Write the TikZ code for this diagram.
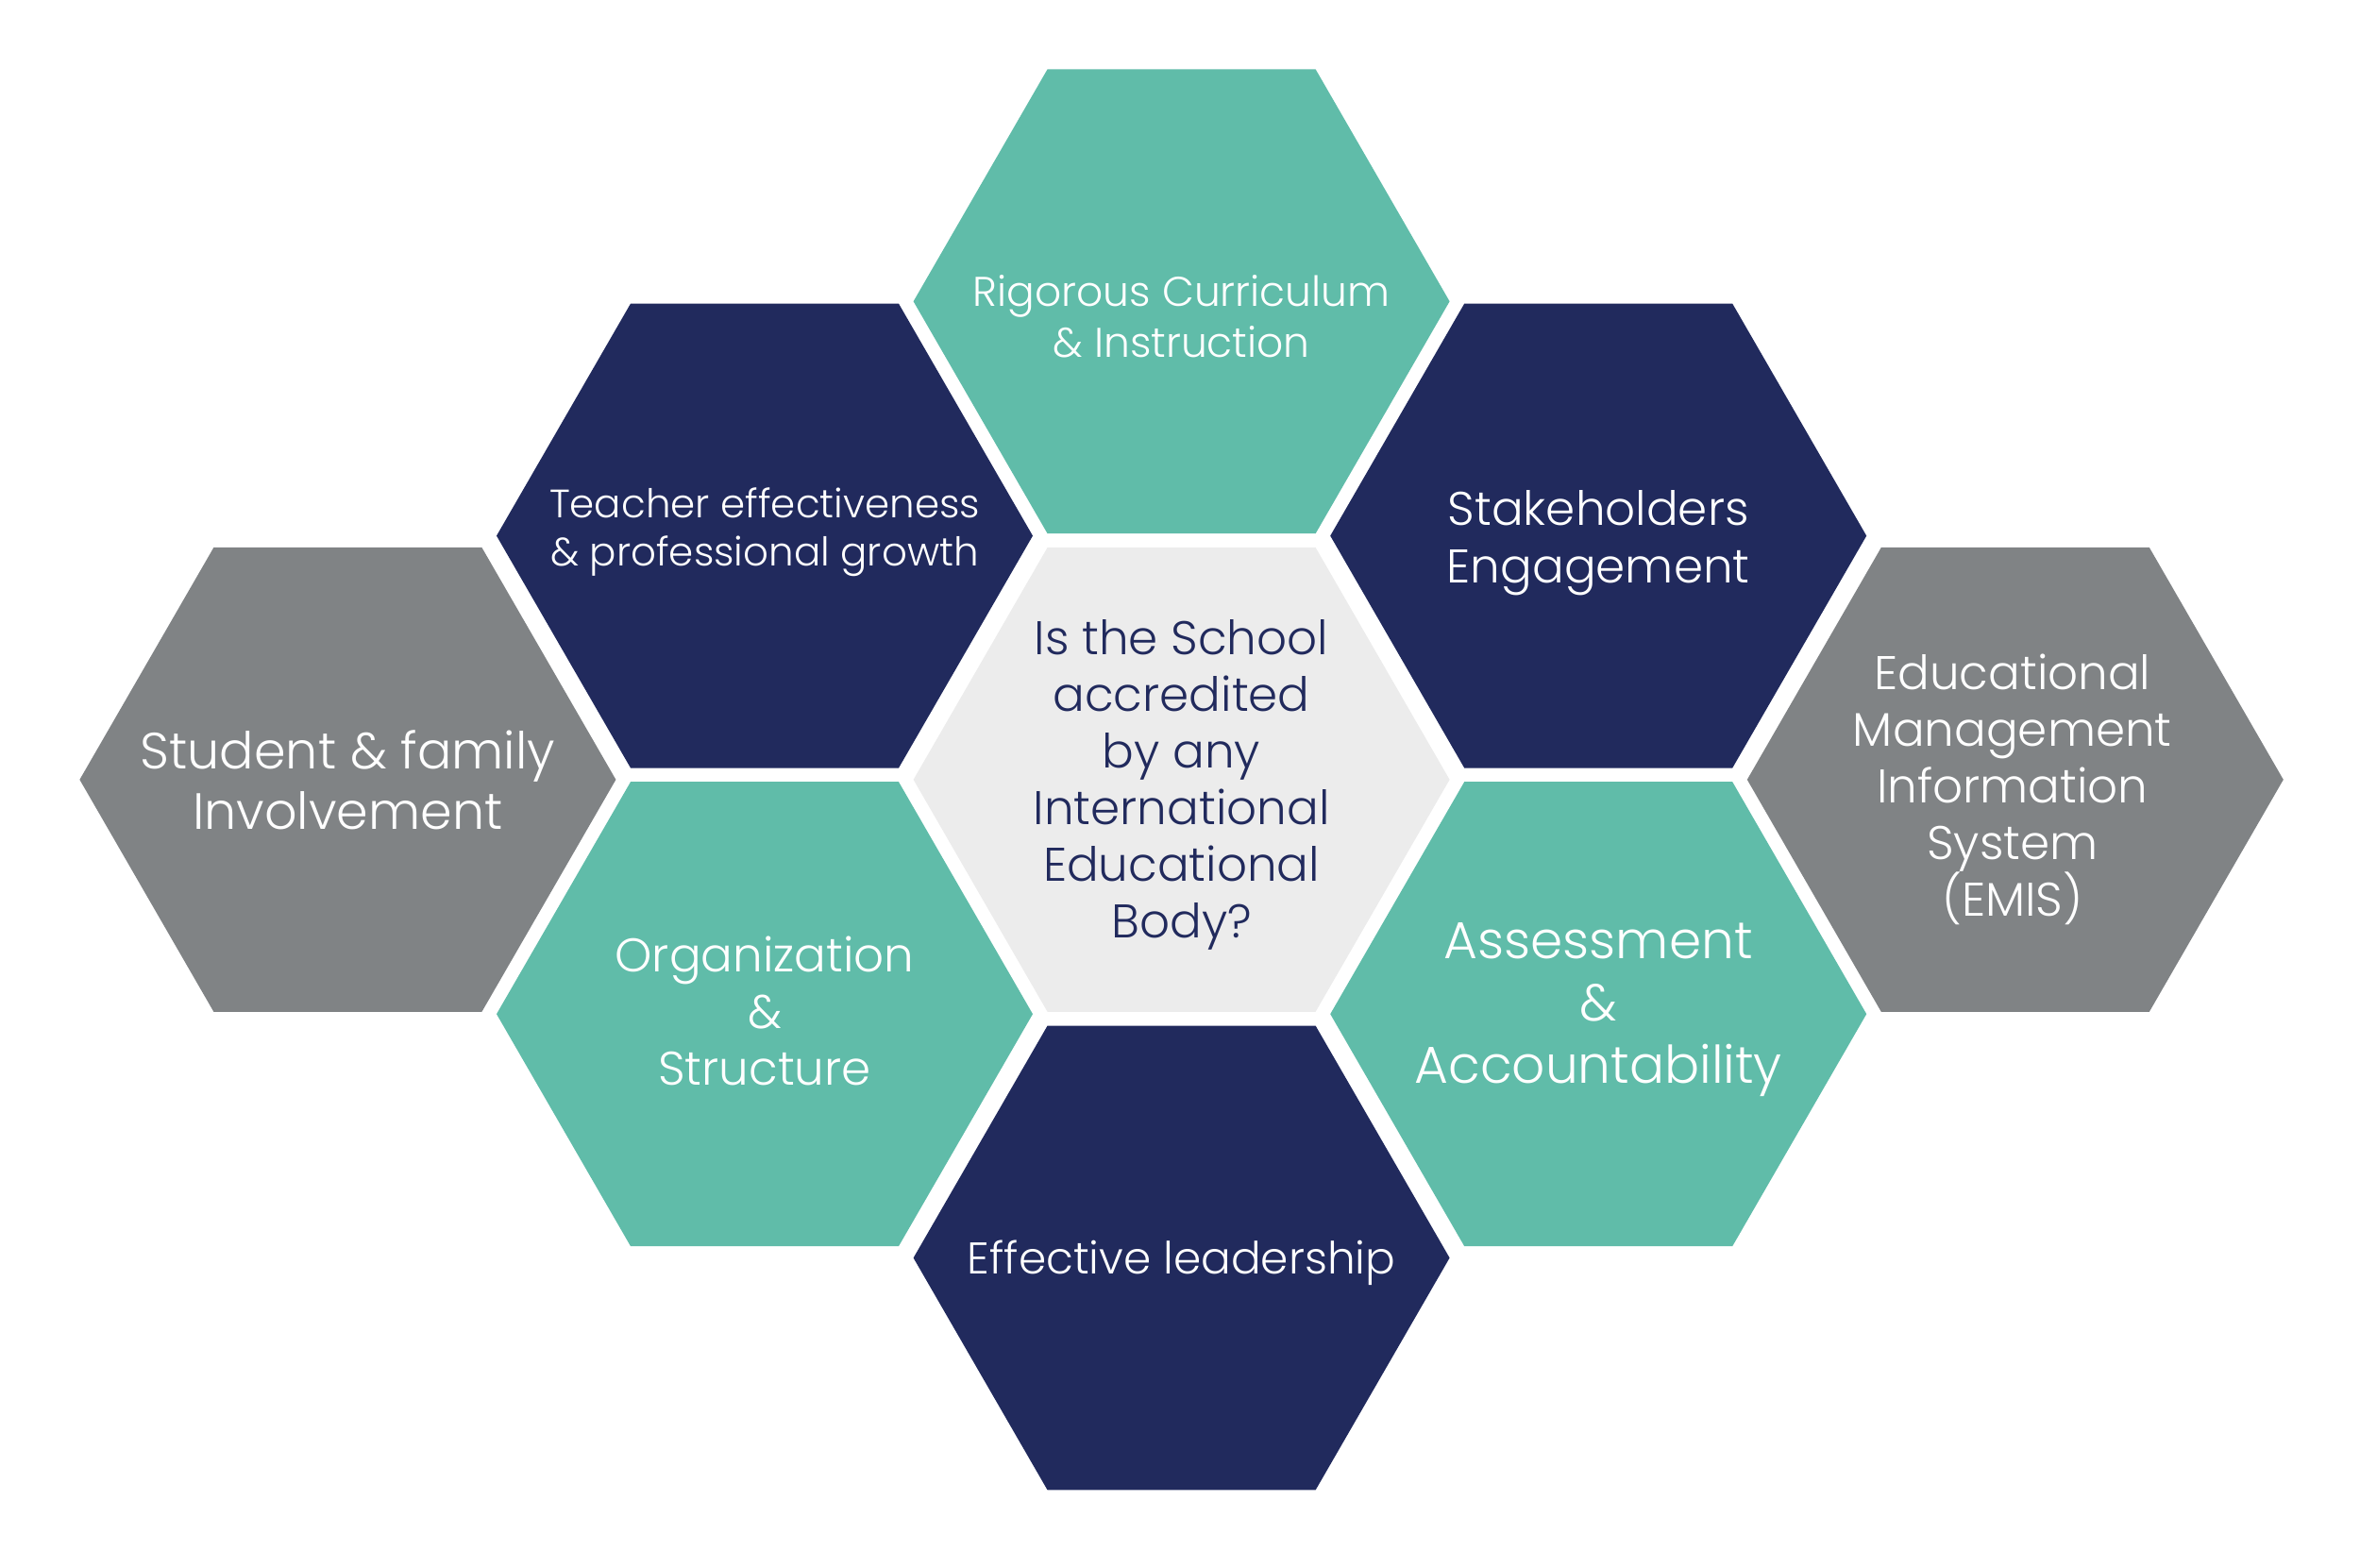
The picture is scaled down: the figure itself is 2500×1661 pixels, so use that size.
\documentclass[tikz,border=0pt]{standalone}
\usepackage{fontspec}
\IfFontExistsTF{Poppins Light}{\setmainfont{Poppins Light}}{\setmainfont{Poppins}}
\usetikzlibrary{shapes.geometric}
\definecolor{hexlight}{HTML}{ECECEC}
\definecolor{hexteal}{HTML}{60BCA9}
\definecolor{hexnavy}{HTML}{212A5D}
\definecolor{hexgray}{HTML}{808385}
\tikzset{
  hexa/.style={regular polygon, regular polygon sides=6, minimum size=568pt,
    inner sep=0pt, outer sep=0pt, draw=none},
  lbl/.style={align=center, text=white, inner sep=0pt},
  fs/.style 2 args={font={\fontsize{#1}{#2}\selectfont}},
}
\begin{document}
\begin{tikzpicture}[x=1pt,y=1pt]
\useasboundingbox (0,0) rectangle (2500,1661);
\def\cx{1251.6}\def\cy{835.1}\def\dx{441.6}\def\dy{253.3}
% hexagons
\node[hexa, fill=hexlight] (c)  at (\cx,\cy) {};
\node[hexa, fill=hexteal]  (t)  at (\cx,\cy+2*\dy) {};
\node[hexa, fill=hexnavy]  (tl) at (\cx-\dx,\cy+\dy+5) {};
\node[hexa, fill=hexnavy]  (tr) at (\cx+\dx,\cy+\dy+5) {};
\node[hexa, fill=hexteal]  (bl) at (\cx-\dx,\cy-\dy+5) {};
\node[hexa, fill=hexteal]  (br) at (\cx+\dx,\cy-\dy+5) {};
\node[hexa, fill=hexnavy]  (b)  at (\cx,\cy-2*\dy) {};
\node[hexa, fill=hexgray]  (l)  at (\cx-2*\dx,\cy) {};
\node[hexa, fill=hexgray]  (r)  at (\cx+2*\dx,\cy) {};
% labels
\node[lbl, fs={50}{60}, text=hexnavy] (ct) at ([yshift=-6pt]c.center)
  {Is the School\\accredited\\by any\\International\\Educational\\Body?};
\node[lbl, fs={44}{54}] (tt) at ([yshift=-16pt]t.center) {Rigorous Curriculum\\\& Instruction};
\node[lbl, fs={42}{51}] (tlt) at ([yshift=4pt]tl.center) {Teacher effectiveness\\\& professional growth};
\node[lbl, fs={50}{61}] (trt) at ([yshift=-8pt]tr.center) {Stakeholders\\Engagement};
\node[lbl, fs={50}{60}] (blt) at ([yshift=3pt]bl.center) {Organization\\\&\\Structure};
\node[lbl, fs={55}{66}] (brt) at ([yshift=5pt]br.center) {Assessment\\\&\\Accountability};
\node[lbl, fs={47}{56}] (bt) at ([yshift=-5pt]b.center) {Effective leadership};
\node[lbl, fs={54}{64}] (lt) at (l.center) {Student \& family\\Involvement};
\node[lbl, fs={50}{60}] (rt) at ([xshift=-3pt,yshift=-10pt]r.center) {Educational\\Management\\Information\\System\\(EMIS)};
\end{tikzpicture}
\end{document}
